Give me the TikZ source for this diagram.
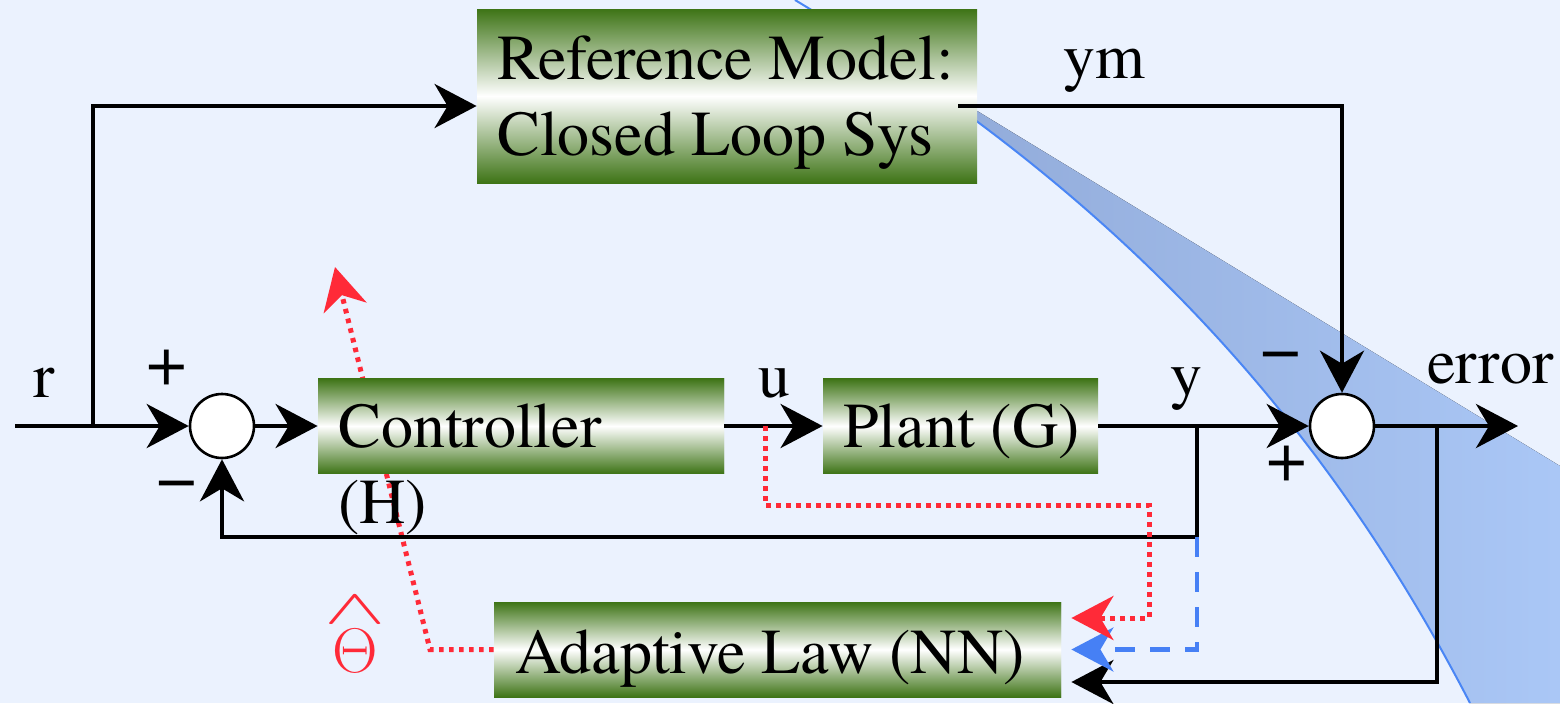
\documentclass[tikz,border=0pt]{standalone}
\usepackage{fontspec}
\usepackage{graphicx}
\setmainfont{texgyretermes}[Extension=.otf,UprightFont=*-regular,BoldFont=*-bold,ItalicFont=*-italic,BoldItalicFont=*-bolditalic]
\usetikzlibrary{arrows.meta,calc}
\definecolor{bg}{RGB}{235,242,254}
\definecolor{boxgreen}{RGB}{62,116,22}
\definecolor{redc}{RGB}{255,42,56}
\definecolor{bluec}{RGB}{70,128,245}
\definecolor{wedgeL}{RGB}{140,164,210}
\definecolor{wedgeR}{RGB}{170,199,246}
\definecolor{curvec}{RGB}{74,134,245}
\begin{document}
\begin{tikzpicture}[x=0.5pt,y=-0.5pt,
  blk/.style={line width=2.2pt,draw=black},
  arr/.style={-{Stealth[length=21pt,width=22pt,inset=6.5pt]}},
  reddot/.style={line width=2.5pt,draw=redc,dash pattern=on 2.3pt off 2.7pt},
  bluedash/.style={line width=2.2pt,draw=bluec,dash pattern=on 10pt off 7.5pt},
  gbox/.style={draw=none,top color=boxgreen,bottom color=boxgreen,middle color=white,inner sep=0pt},
  sumc/.style={circle,draw=black,line width=1.3pt,fill=white,minimum size=32pt,inner sep=0pt},
  lbl/.style={font=\fontsize{32}{38}\selectfont,inner sep=0pt,anchor=base west},
  sgn/.style={font=\fontsize{36}{40}\selectfont,inner sep=0pt,anchor=center}]
\useasboundingbox (0,0) rectangle (1560,703);
\fill[bg] (0,0) rectangle (1560,703);
\begin{scope}
\clip (0,0) rectangle (1560,703);
\fill[left color=wedgeL,right color=wedgeR] (795,0) -- (1560,466) -- (1560,703) -- (1470,703) .. controls (1310,394) and (1095,180) .. (795,0) -- cycle;
\draw[curvec,line width=1pt] (795,0) .. controls (1095,180) and (1310,394) .. (1470,703);
\end{scope}

% boxes and junctions
\node[gbox,minimum width=250pt,minimum height=87pt] (ref) at (727,96) {};
\node[gbox,minimum width=203pt,minimum height=47.5pt] (ctrl) at (521,426) {};
\node[gbox,minimum width=137.5pt,minimum height=47.5pt] (plant) at (960.5,426) {};
\node[gbox,minimum width=283.5pt,minimum height=47.5pt] (adapt) at (777.5,649.5) {};

\coordinate (in) at (15,426);
\coordinate (rbr) at (93,426);
\coordinate (refin) at ($(ref.west)+(0,10)$);
\coordinate (refout) at ($(ref.east)+(-19,10)$);
\coordinate (ybr) at (1197,426);
\coordinate (fbk) at (1197,537);
\coordinate (ebr) at (1437,426);
\coordinate (out) at (1518,426);
\coordinate (ubr) at (765,426);
\coordinate (r1) at (765,505);
\coordinate (r2) at (1149,505);
\coordinate (adR) at ($(adapt.east)+(0,-31.5)$);
\coordinate (adK) at ($(adapt.east)+(0,32.5)$);
\coordinate (rk) at (430,649.5);
\coordinate (thtip) at (335,267);

% red dotted estimate line (under the controller box)
\draw[reddot,-{Stealth[length=21pt,width=22pt,inset=6.5pt]},redc] (adapt.west) -- (rk) -- (thtip);

% redraw boxes on top of the dotted line
\node[gbox,minimum width=203pt,minimum height=47.5pt] at (ctrl) {};
\node[gbox,minimum width=283.5pt,minimum height=47.5pt] at (adapt) {};

\node[sumc] (s1) at (222,426) {};
\node[sumc] (s2) at (1342,426) {};

% connectors
\draw[blk] (in) -- (rbr);
\draw[blk,arr] (rbr) -- (s1);
\draw[blk,arr] (rbr) |- (refin);
\draw[blk,arr] (s1) -- (ctrl);
\draw[blk,arr] (ctrl) -- (plant);
\draw[blk,arr] (plant) -- (s2);
\draw[blk,arr] (ybr) -- (fbk) -| (s1.south);
\draw[blk,arr] (refout) -| (s2.north);
\draw[blk,arr] (s2) -- (out);
\draw[blk,arr,shorten >=5pt] (ebr) |- (adK);
\draw[bluedash,shorten >=5pt,-{Stealth[length=21pt,width=22pt,inset=6.5pt]},bluec] (fbk) |- (adapt.east);
\draw[reddot,shorten >=5pt,-{Stealth[length=21pt,width=22pt,inset=6.5pt]},redc] (ubr) -- (r1) -- (r2) |- (adR);

% texts
\node[lbl] (reft1) at (497,79) {Reference Model:};
\node[lbl] (reft2) at (497,155) {Closed Loop Sys};
\node[lbl] (ctrltext) at (338,447) {Controller};
\node[lbl] (htext) at (338,523) {(H)};
\node[lbl] (planttext) at (843,447) {Plant (G)};
\node[lbl] (adtext) at (515,673) {Adaptive Law (NN)};
\node[lbl] (rl) at (33,397) {r};
\node[lbl] (ul) at (758,397) {u};
\node[lbl] (yl) at (1170,396) {y};
\node[lbl] (yml) at (1063,78) {ym};
\node[lbl] (errl) at (1427,383) {error};
\node[sgn] (p1) at (167,368) {+};
\node[sgn] (m1) at (177,491) {−};
\node[sgn] (m2) at (1281,362) {−};
\node[sgn] (p2) at (1287,464) {+};
\node[text=redc,inner sep=0pt,anchor=south,align=center,font=\fontsize{24.88}{24.5}\selectfont] (thetahat) at (355,673)
  {\scalebox{1.85}[0.98]{$\wedge$}\\\scalebox{1.27}{$\Theta$}};
\end{tikzpicture}
\end{document}
